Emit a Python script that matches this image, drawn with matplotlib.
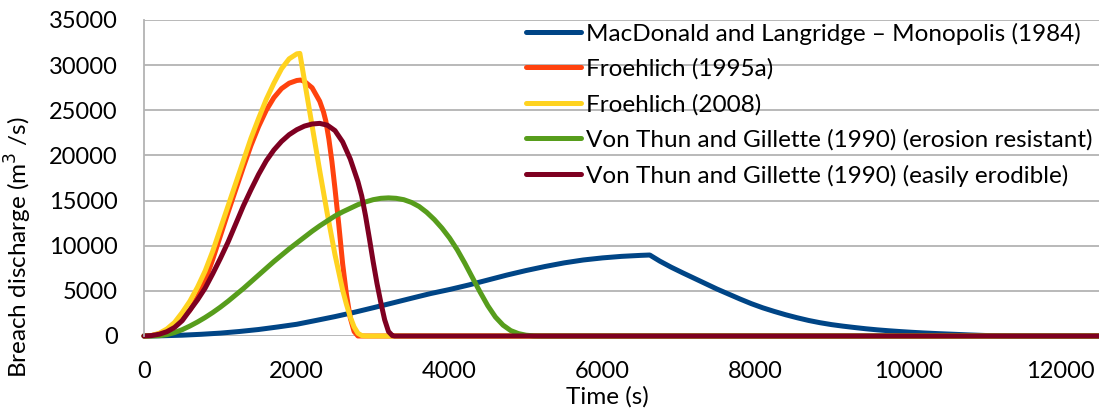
import matplotlib
matplotlib.use("Agg")
import matplotlib.pyplot as plt

plt.rcParams['font.family'] = ['Lato', 'DejaVu Sans']

# MacDonald and Langridge - Monopolis (1984)
t_macdonald = [0, 250, 500, 750, 1000, 1250, 1500, 1750, 2000, 2250, 2500, 2750, 3000,
               3250, 3500, 3750, 4000, 4250, 4500, 4750, 5000, 5250, 5500, 5750, 6000,
               6250, 6500, 6620, 6750, 6900, 7050, 7200, 7350, 7500, 7650, 7800, 7950,
               8100, 8250, 8400, 8550, 8700, 8850, 9000, 9150, 9300, 9450, 9600, 9750,
               9900, 10050, 10200, 10400, 10600, 10800, 11000, 11200, 11400, 12500]
q_macdonald = [0, 30, 90, 190, 320, 500, 720, 1000, 1300, 1720, 2150, 2620, 3130,
               3650, 4180, 4700, 5150, 5650, 6200, 6750, 7250, 7700, 8100, 8420, 8650,
               8820, 8930, 8970, 8300, 7620, 7000, 6400, 5800, 5200, 4650, 4100, 3580,
               3120, 2720, 2350, 2020, 1720, 1470, 1260, 1090, 940, 800, 680, 580,
               490, 410, 340, 260, 190, 120, 60, 20, 0, 0]

# Froehlich (1995a)
t_froehlich95 = [0, 100, 200, 300, 400, 500, 600, 700, 800, 900, 1000, 1100, 1200, 1300,
                 1400, 1500, 1600, 1700, 1800, 1900, 2000, 2050, 2100, 2200, 2300, 2350,
                 2380, 2420, 2460, 2500, 2550, 2600, 2650, 2700, 2750, 2800, 12500]
q_froehlich95 = [0, 50, 250, 650, 1250, 2000, 2850, 4300, 6100, 8500, 11100, 13700, 16200,
                 18700, 21100, 23200, 25000, 26400, 27400, 28000, 28300, 28350, 28200, 27500,
                 26000, 24800, 23800, 21800, 19300, 16300, 12300, 8000, 4600, 2000, 500, 0, 0]

# Froehlich (2008)
t_froehlich08 = [0, 100, 200, 300, 400, 500, 600, 700, 800, 900, 1000, 1100, 1200, 1300,
                 1400, 1500, 1600, 1700, 1800, 1900, 2000, 2040, 2100, 2200, 2300, 2400,
                 2500, 2600, 2650, 2700, 2750, 2800, 2850, 2900, 12500]
q_froehlich08 = [0, 60, 300, 780, 1500, 2600, 3850, 5400, 7200, 9400, 11900, 14400, 16900,
                 19400, 21900, 24100, 26200, 28000, 29600, 30700, 31250, 31300, 28300, 23300,
                 18300, 13500, 9000, 5100, 3500, 2100, 1000, 300, 50, 0, 0]

# Von Thun and Gillette (1990), erosion resistant
t_vt_resist = [0, 100, 200, 300, 400, 500, 600, 700, 800, 900, 1000, 1100, 1200, 1300,
               1400, 1500, 1600, 1700, 1800, 1900, 2000, 2100, 2200, 2300, 2400, 2500,
               2600, 2700, 2800, 2900, 3000, 3100, 3200, 3300, 3400, 3500, 3600, 3700,
               3800, 3900, 4000, 4100, 4200, 4300, 4400, 4500, 4600, 4700, 4800, 4900,
               5000, 5100, 5200, 12500]
q_vt_resist = [0, 0, 30, 150, 380, 700, 1100, 1550, 2050, 2600, 3200, 3850, 4550, 5250,
               6000, 6750, 7500, 8250, 8950, 9650, 10300, 10950, 11600, 12200, 12750, 13300,
               13750, 14150, 14550, 14850, 15100, 15250, 15300, 15250, 15100, 14800, 14350,
               13700, 12900, 11950, 10850, 9550, 8050, 6450, 4850, 3350, 2100, 1200, 600,
               270, 90, 15, 0, 0]

# Von Thun and Gillette (1990), easily erodible
t_vt_erode = [0, 100, 200, 300, 400, 500, 600, 700, 800, 900, 1000, 1100, 1200, 1300,
              1400, 1500, 1600, 1700, 1800, 1900, 2000, 2100, 2200, 2300, 2400, 2500, 2600,
              2700, 2800, 2850, 2900, 2950, 3000, 3050, 3100, 3150, 3200, 3250, 3280, 12500]
q_vt_erode = [0, 50, 200, 480, 950, 1700, 2850, 4000, 5300, 6900, 8600, 10400, 12400,
              14400, 16200, 17900, 19400, 20600, 21550, 22300, 22850, 23250, 23480, 23550,
              23350, 22750, 21500, 19600, 17100, 15500, 13300, 10800, 8200, 5800, 3700,
              1800, 500, 50, 0, 0]

series = [
    ("MacDonald and Langridge \u2013 Monopolis (1984)", t_macdonald, q_macdonald, "#004586"),
    ("Froehlich (1995a)", t_froehlich95, q_froehlich95, "#ff420e"),
    ("Froehlich (2008)", t_froehlich08, q_froehlich08, "#ffd320"),
    ("Von Thun and Gillette (1990) (erosion resistant)", t_vt_resist, q_vt_resist, "#579d1c"),
    ("Von Thun and Gillette (1990) (easily erodible)", t_vt_erode, q_vt_erode, "#7e0021"),
]

x_ticks = [0, 2000, 4000, 6000, 8000, 10000, 12000]
y_ticks = [0, 5000, 10000, 15000, 20000, 25000, 30000, 35000]

fig = plt.figure(figsize=(10.99, 4.12), dpi=100)
ax = fig.add_axes([144 / 1099, 76 / 412, 955 / 1099, 316 / 412])

for label, t, q, color in series:
    ax.plot(t, q, color=color, lw=3.6, label=label, solid_joinstyle='round',
            solid_capstyle='round', clip_on=False)

ax.set_xlim(0, 12500)
ax.set_ylim(0, 35000)
ax.set_xticks(x_ticks)
ax.set_yticks(y_ticks)
ax.tick_params(length=0, labelsize=17)
ax.tick_params(axis='y', pad=19)
ax.tick_params(axis='x', pad=18)
ax.yaxis.grid(True, color='#b3b3b3', lw=1.3)
ax.set_axisbelow(True)
for side in ['top', 'right', 'bottom']:
    ax.spines[side].set_visible(False)
ax.spines['left'].set_color('#b3b3b3')
ax.spines['left'].set_linewidth(1.3)

ax.set_xlabel("Time (s)", fontsize=17.5)
ax.xaxis.set_label_coords(0.485, -0.16)
ax.set_ylabel("Breach discharge (m$^3$ /s)", fontsize=17.5)
ax.yaxis.set_label_coords(-0.115, 0.28)

ax.legend(loc='upper left', bbox_to_anchor=(380 / 955, 1.0), frameon=False, fontsize=17.5,
          handlelength=2.25, handletextpad=0.2, labelspacing=0.57, borderpad=0.1,
          borderaxespad=0)

fig.savefig("out.png", dpi=100)
